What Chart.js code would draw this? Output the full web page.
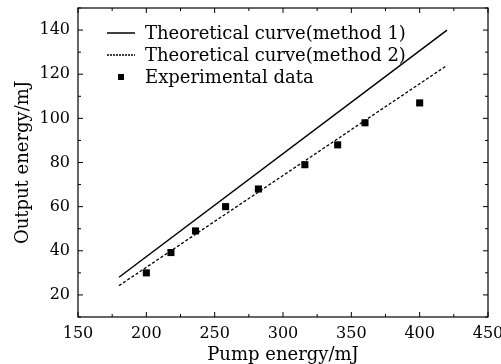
<!DOCTYPE html>
<html>
<head>
<meta charset="utf-8">
<script src="https://cdn.jsdelivr.net/npm/chart.js@4"></script>
<style>
  html, body { margin: 0; padding: 0; background: #fff; }
  #wrap { width: 501px; height: 364px; }
</style>
</head>
<body>
<div id="wrap"><canvas id="c" width="501" height="364"></canvas></div>
<script>
// Datos
const theoryX = [180, 420];
const method1Y = [28, 140];
const method2Y = [24.2, 124];
const expX = [200, 218, 236, 258, 282, 316, 340, 360, 400];
const expY = [30, 39.2, 49, 60, 68, 79, 88, 98, 107];
const seriesLabels = ['Theoretical curve(method 1)', 'Theoretical curve(method 2)', 'Experimental data'];
const xTitle = 'Pump energy/mJ';
const yTitle = 'Output energy/mJ';

const FONT = '"DejaVu Serif", "Liberation Serif", serif';

const toPts = (xs, ys) => xs.map((x, i) => ({ x: x, y: ys[i] }));

// Marco, ticks hacia dentro y leyenda dentro del área
const framePlugin = {
  id: 'frame',
  afterDraw(chart) {
    const ctx = chart.ctx;
    const xs = chart.scales.x, ys = chart.scales.y;
    const L = xs.getPixelForValue(xs.min), R = xs.getPixelForValue(xs.max);
    const T = ys.getPixelForValue(ys.max), B = ys.getPixelForValue(ys.min);
    ctx.save();
    ctx.strokeStyle = '#000';
    ctx.lineWidth = 1.2;
    ctx.strokeRect(L, T, R - L, B - T);
    ctx.lineWidth = 1;
    ctx.beginPath();
    for (let v = 150; v <= 450; v += 25) {
      const p = xs.getPixelForValue(v);
      const len = v % 50 === 0 ? 5 : 3;
      ctx.moveTo(p, B); ctx.lineTo(p, B - len);
      ctx.moveTo(p, T); ctx.lineTo(p, T + len);
    }
    for (let v = 10; v <= 150; v += 10) {
      const p = ys.getPixelForValue(v);
      const len = v % 20 === 0 ? 5 : 3;
      ctx.moveTo(L, p); ctx.lineTo(L + len, p);
      ctx.moveTo(R, p); ctx.lineTo(R - len, p);
    }
    ctx.stroke();

    // leyenda
    ctx.font = '18px ' + FONT;
    ctx.fillStyle = '#000';
    ctx.textBaseline = 'middle';
    const x0 = L + 29, x1 = L + 57, tx = L + 67;
    chart.data.datasets.forEach((ds, i) => {
      const yy = T + 25 + i * 22;
      if (ds.showLine) {
        ctx.beginPath();
        ctx.lineWidth = ds.borderWidth;
        ctx.setLineDash(i === 1 ? [2, 1] : []);
        ctx.moveTo(x0, yy); ctx.lineTo(x1, yy);
        ctx.stroke();
        ctx.setLineDash([]);
      } else {
        ctx.fillRect((x0 + x1) / 2 - 3, yy - 3, 6, 6);
      }
      ctx.fillText(ds.label, tx, yy + 1);
    });
    ctx.restore();
  }
};

new Chart(document.getElementById('c'), {
  type: 'scatter',
  data: {
    datasets: [
      { label: seriesLabels[0], data: toPts(theoryX, method1Y), showLine: true, borderColor: '#000', borderWidth: 1.5, pointRadius: 0 },
      { label: seriesLabels[1], data: toPts(theoryX, method2Y), showLine: true, borderColor: '#000', borderWidth: 1.3, borderDash: [3, 2], pointRadius: 0 },
      { label: seriesLabels[2], data: toPts(expX, expY), showLine: false, pointStyle: 'rect', pointRadius: 5, backgroundColor: '#000', borderColor: '#000', borderWidth: 0 }
    ]
  },
  options: {
    responsive: false,
    animation: false,
    layout: { padding: { top: 8, right: 13, left: 0, bottom: 0 } },
    plugins: { legend: { display: false }, tooltip: { enabled: false } },
    scales: {
      x: {
        type: 'linear', min: 150, max: 450,
        afterFit: s => { s.height = 47; s.paddingLeft = 0; s.paddingRight = 13; },
        ticks: { stepSize: 50, color: '#000', font: { family: FONT, size: 16 }, padding: 7, maxRotation: 0 },
        grid: { display: false, drawTicks: false },
        border: { display: false },
        title: { display: true, text: xTitle, color: '#000', font: { family: FONT, size: 18 }, padding: { top: 0, bottom: -2 } }
      },
      y: {
        type: 'linear', min: 10, max: 150,
        afterFit: s => { s.width = 78; s.paddingTop = 0; s.paddingBottom = 0; },
        ticks: { stepSize: 20, color: '#000', font: { family: FONT, size: 16 }, padding: 8 },
        afterBuildTicks: s => { s.ticks = [20, 40, 60, 80, 100, 120, 140].map(v => ({ value: v })); },
        grid: { display: false, drawTicks: false },
        border: { display: false },
        title: { display: true, text: yTitle, color: '#000', font: { family: FONT, size: 18 }, padding: { top: 13, bottom: 0 } }
      }
    }
  },
  plugins: [framePlugin]
});
</script>
</body>
</html>
